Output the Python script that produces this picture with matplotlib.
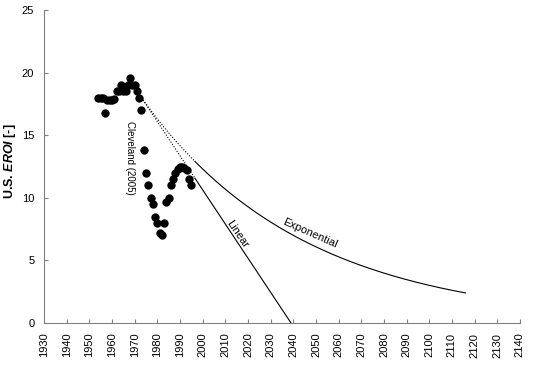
import numpy as np
import matplotlib
matplotlib.use("Agg")
import matplotlib.pyplot as plt

plt.rcParams['font.family'] = ['Liberation Sans', 'DejaVu Sans']
plt.rcParams['mathtext.fontset'] = 'custom'
plt.rcParams['mathtext.it'] = 'Liberation Sans:italic:bold'

# Cleveland (2005) U.S. EROI estimates
years = [1954, 1955, 1956, 1957, 1958, 1959, 1960, 1961, 1962, 1963, 1964,
         1965, 1966, 1967, 1968, 1969, 1970, 1971, 1972, 1973, 1974, 1975,
         1976, 1977, 1978, 1979, 1980, 1981, 1982, 1983, 1984, 1985, 1986,
         1987, 1988, 1989, 1990, 1991, 1992, 1993, 1994, 1995]
eroi = [18.0, 18.0, 18.0, 16.8, 17.8, 17.8, 17.8, 17.9, 18.5, 18.5, 19.0,
        18.5, 18.5, 19.0, 19.6, 19.0, 19.0, 18.5, 18.0, 17.0, 13.8, 12.0,
        11.0, 10.0, 9.5, 8.5, 8.0, 7.2, 7.0, 8.0, 9.7, 10.0, 11.0,
        11.5, 12.0, 12.3, 12.5, 12.5, 12.4, 12.2, 11.5, 11.0]

# trend lines (start, switch from dotted to solid, end)
trend_start = (1973, 18.0)
trend_switch = 1996.6
linear_end = (2039, 0.0)
exp_end = (2116, 2.4)

fig = plt.figure(figsize=(5.45, 3.71), dpi=100)
ax = fig.add_axes([0.0807, 0.1294, 0.8733, 0.8436])

ax.plot(years, eroi, 'o', color='black', markersize=5, zorder=3)

# linear trend
x0, y0 = trend_start
x1, y1 = linear_end
ys = y0 + (trend_switch - x0) * (y1 - y0) / (x1 - x0)
ax.plot([x0, trend_switch], [y0, ys], color='black', lw=0.8, ls=(0, (1, 1.5)))
ax.plot([trend_switch, x1], [ys, y1], color='black', lw=0.8)

# exponential trend
k = np.log(exp_end[1] / y0) / (exp_end[0] - x0)
t1 = np.linspace(x0, trend_switch, 50)
t2 = np.linspace(trend_switch, exp_end[0], 200)
ax.plot(t1, y0 * np.exp(k * (t1 - x0)), color='black', lw=0.8, ls=(0, (1, 1.5)))
ax.plot(t2, y0 * np.exp(k * (t2 - x0)), color='black', lw=0.8)

ax.text(1968, 13.2, 'Cleveland (2005)', rotation=-90, fontsize=7,
        ha='center', va='center')
ax.text(2015.4, 7.1, 'Linear', rotation=-56, fontsize=8,
        ha='center', va='center', rotation_mode='anchor')
ax.text(2047.3, 7.2, 'Exponential', rotation=-24, fontsize=8,
        ha='center', va='center', rotation_mode='anchor')

ax.set_xlim(1930, 2140)
ax.set_ylim(0, 25)
ax.set_xticks(range(1930, 2141, 10))
ax.set_yticks(range(0, 26, 5))
ax.tick_params(axis='x', labelrotation=90, direction='in', length=3,
               pad=7, labelsize=8, color='#808080')
ax.tick_params(axis='y', direction='in', length=3, pad=7, labelsize=8,
               color='#808080')

for s in ['top', 'right']:
    ax.spines[s].set_visible(False)
for s in ['left', 'bottom']:
    ax.spines[s].set_color('#808080')

fig.text(0.018, 0.566, r'U.S. $\mathit{EROI}$ [-]', rotation=90,
         fontsize=9, fontweight='bold', ha='center', va='center')

fig.savefig('out.png', dpi=100)
